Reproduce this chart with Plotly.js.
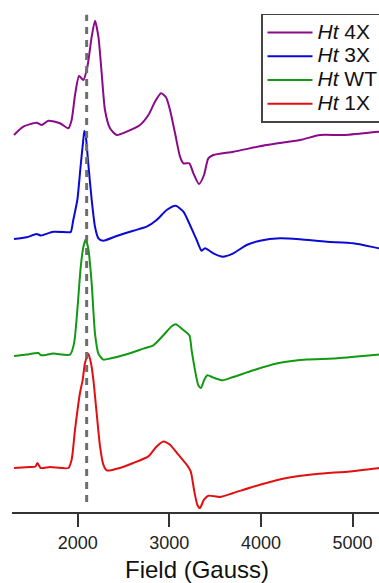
<!DOCTYPE html>
<html><head><meta charset="utf-8">
<script src="https://cdn.plot.ly/plotly-3.0.1.min.js"></script>
<style>html,body{margin:0;padding:0;overflow:hidden;background:#fff}#chart{width:392px;height:583px}</style>
</head><body><div id="chart"></div>
<script>
// Series labels (legend order, top to bottom)
const seriesNames = ['<i>Ht</i> 4X', '<i>Ht</i> 3X', '<i>Ht</i> WT', '<i>Ht</i> 1X'];
const seriesColors = ['#8a0a8a', '#0a0ad2', '#139813', '#e01010'];

// Field (Gauss) and EPR signal (arbitrary units, relative to baseline)
const field4X  = [1305,1407,1552,1607,1680,1807,1898,1934,1971,2015,2062,2106,2153,2189,2226,2262,2298,2353,2426,2535,2680,2772,2844,2910,2964,3008,3063,3117,3154,3219,3263,3325,3379,3426,3481,3699,4063,4427,4646,4900,5290,5400];
const signal4X = [0,8.3,12.3,10,14.3,11.7,6.7,15,40,59,55,68.3,98.3,114.3,98.3,61.7,25,6.7,0,3.3,10,20,33.3,41.7,37.7,25,1.7,-21.7,-28.3,-28.3,-38.3,-49,-40,-23.3,-20,-16.7,-10,-5,0,0,3.3,4];

const field3X  = [1305,1443,1552,1600,1734,1898,1925,1952,1996,2033,2062,2073,2087,2116,2153,2189,2226,2280,2426,2608,2753,2862,2972,3070,3154,3226,3299,3353,3390,3481,3583,3699,3845,3990,4209,4427,4718,5009,5290,5400];
const signal3X = [0,1.7,5,3.5,7.3,6.7,7,19,39,74,100,108,104,75,39,12.3,0.7,-1.7,3,8.3,12.3,19,29,33.3,27.3,14,-1,-11.7,-9.3,-14.3,-17.7,-14.3,-6,-1.7,0.7,-0.3,-2.7,-4.3,-9.3,-11];

const fieldWT  = [1305,1443,1571,1600,1734,1916,1960,1996,2033,2062,2087,2116,2153,2189,2226,2280,2353,2535,2717,2826,2935,3026,3070,3135,3219,3244,3281,3317,3346,3379,3416,3481,3583,3699,3918,4172,4500,4791,5290,5400];
const signalWT = [0,1.4,3,0.7,2.4,1.4,12.4,45.7,89,109,116.4,107.4,72.4,22.4,2.4,-3.6,-2.6,1.7,7.4,10.7,20.7,29.7,31.7,27.4,20.7,5.7,-14.3,-29.3,-32,-24.3,-19.3,-21.6,-24.3,-21,-14.3,-7.6,-3.6,-2.6,1.4,2];

const field1X  = [1305,1480,1540,1560,1596,1698,1898,1934,1971,2025,2055,2080,2116,2145,2171,2207,2244,2280,2317,2462,2608,2771,2862,2935,3008,3099,3190,3234,3270,3306,3335,3379,3426,3554,3699,3990,4282,4609,4973,5290,5400];
const signal1X = [0,1,1.5,5,0,1,0,8.3,38.3,75,88.3,105,114.3,105,88.3,55,21.6,3.3,-2.4,0,5,11.6,21.6,26.6,23.3,13.3,3.3,-3.4,-21.7,-36.7,-40,-31.7,-27.7,-29,-25,-16.7,-10,-6,-3.4,0,1];

const fieldTicks = [2000, 3000, 4000, 5000];
const referenceField = 2098; // dashed marker line

// Display (stacking) offsets for each trace
const stackOffsets = [377, 273, 156, 44];

const fields = [field4X, field3X, fieldWT, field1X];
const signals = [signal4X, signal3X, signalWT, signal1X];

const traces = seriesNames.map((name, i) => ({
  type: 'scatter', mode: 'lines',
  name: '<span style="font-size:21px">' + name + '</span>',
  x: fields[i],
  y: signals[i].map(v => v + stackOffsets[i]),
  line: {color: seriesColors[i], width: 2, shape: 'spline', smoothing: 0.6},
  hoverinfo: 'skip'
}));

const font = 'Arial, "Liberation Sans", sans-serif';
const layout = {
  width: 392, height: 583,
  margin: {l: 12, r: 10, t: 0, b: 71},
  paper_bgcolor: '#fff', plot_bgcolor: '#fff',
  showlegend: true,
  legend: {
    x: 0.673, y: 0.9727, xanchor: 'left', yanchor: 'top',
    bgcolor: '#fff', bordercolor: '#444', borderwidth: 1.5,
    font: {family: font, size: 16, color: '#111'},
    itemwidth: 45, tracegroupgap: 0
  },
  xaxis: {
    range: [1283, 5322], showgrid: false, zeroline: false,
    showline: true, linecolor: '#333', linewidth: 2,
    ticks: 'outside', ticklen: 13, tickwidth: 2, tickcolor: '#333',
    tickvals: fieldTicks, ticktext: fieldTicks.map(String),
    tickfont: {family: font, size: 18, color: '#222'},
    title: {text: 'Field (Gauss)', font: {family: font, size: 24, color: '#111'}, standoff: 12}
  },
  yaxis: {range: [0, 512], visible: false, showgrid: false, zeroline: false, fixedrange: true},
  shapes: [{
    type: 'line', xref: 'x', yref: 'paper',
    x0: referenceField, x1: referenceField, y0: 0.0195, y1: 0.971,
    line: {color: '#6e6e6e', width: 3, dash: '7px,6px'}
  }]
};

Plotly.newPlot('chart', traces, layout, {displayModeBar: false, staticPlot: true});
</script>
</body></html>
